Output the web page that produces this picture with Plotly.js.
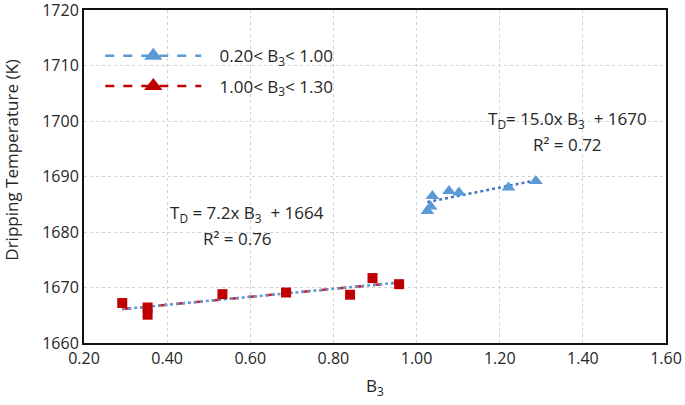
<!DOCTYPE html>
<html>
<head>
<meta charset="utf-8">
<script src="https://cdn.plot.ly/plotly-3.0.1.min.js"></script>
<style>html,body{margin:0;padding:0;background:#fff;}#chart{width:685px;height:405px;}</style>
</head>
<body>
<div id="chart"></div>
<script>
// Data
var redB3 = [0.292, 0.353, 0.353, 0.533, 0.686, 0.840, 0.894, 0.958];
var redTD = [1667.2, 1666.4, 1665.1, 1668.8, 1669.1, 1668.7, 1671.7, 1670.6];
var blueB3 = [1.026, 1.034, 1.038, 1.078, 1.102, 1.221, 1.287];
var blueTD = [1683.8, 1684.6, 1686.5, 1687.4, 1687.1, 1688.0, 1689.2];
// Fitted trendline coefficients shown on the chart
var redFit = {slope: 7.2, intercept: 1664, r2: 0.76};
var blueFit = {slope: 15.0, intercept: 1670, r2: 0.72};
var legendLabels = ['0.20&lt; B<sub>3</sub>&lt; 1.00', '1.00&lt; B<sub>3</sub>&lt; 1.30'];
var xTicks = [0.2, 0.4, 0.6, 0.8, 1.0, 1.2, 1.4, 1.6];
var yTicks = [1660, 1670, 1680, 1690, 1700, 1710, 1720];

function fitLine(xs, fit) {
  var lo = Math.min.apply(null, xs), hi = Math.max.apply(null, xs);
  return {x: [lo, hi], y: [fit.slope * lo + fit.intercept, fit.slope * hi + fit.intercept]};
}
var rl = fitLine(redB3, redFit), bl = fitLine(blueB3, blueFit);

var FONT = 'Open Sans, Liberation Sans, sans-serif';
var TXT = '#262626';
var traces = [
  {x: rl.x, y: rl.y, mode: 'lines', line: {color: '#E0101A', width: 2.5, dash: 'dash'}, showlegend: false, hoverinfo: 'skip'},
  {x: rl.x, y: rl.y, mode: 'lines', line: {color: '#5B9BD5', width: 2.5, dash: 'dot'}, showlegend: false, hoverinfo: 'skip'},
  {x: bl.x, y: bl.y, mode: 'lines', line: {color: '#4472C4', width: 2.5, dash: 'dot'}, showlegend: false, hoverinfo: 'skip'},
  {x: redB3, y: redTD, mode: 'markers', marker: {symbol: 'square', size: 10, color: '#C00000'}, showlegend: false},
  {x: blueB3, y: blueTD, mode: 'markers', marker: {symbol: 'triangle-up', size: 12, color: '#5B9BD5'}, showlegend: false},
  {x: [null], y: [null], name: '   ' + legendLabels[0], legendgroup: 'a', mode: 'lines+markers',
   line: {color: '#5B9BD5', width: 2.5, dash: 'dash'}, marker: {symbol: 'triangle-up', size: 18, color: '#5B9BD5'}},
  {x: [null], y: [null], name: '   ' + legendLabels[1], legendgroup: 'b', mode: 'lines+markers',
   line: {color: '#C00000', width: 2.5, dash: 'dash'}, marker: {symbol: 'triangle-up', size: 18, color: '#C00000'}}
];

var layout = {
  width: 685, height: 405,
  margin: {l: 84, r: 19, t: 10, b: 62},
  paper_bgcolor: '#fff', plot_bgcolor: '#fff',
  font: {family: FONT, size: 16, color: TXT},
  showlegend: true,
  legend: {x: 0.028, y: 0.915, xanchor: 'left', yanchor: 'top', font: {family: FONT, size: 17, color: TXT},
           itemwidth: 96, tracegroupgap: 5, bgcolor: 'rgba(0,0,0,0)'},
  xaxis: {range: [0.2, 1.6], tickvals: xTicks, ticktext: xTicks.map(function(v){return v.toFixed(2);}),
          showgrid: true, gridcolor: '#D2D2D2', griddash: 'dot', gridwidth: 1,
          showline: true, linecolor: '#111', linewidth: 2, mirror: true, ticks: '', zeroline: false,
          tickfont: {family: FONT, size: 16, color: TXT}, ticklabeloverflow: 'allow',
          title: {text: 'B<sub>3</sub>', font: {family: FONT, size: 17, color: TXT}, standoff: 12}},
  yaxis: {range: [1660, 1720], tickvals: yTicks, showgrid: true, gridcolor: '#D2D2D2', griddash: 'dot', gridwidth: 1,
          showline: true, linecolor: '#111', linewidth: 2, mirror: true, ticks: '', zeroline: false,
          tickfont: {family: FONT, size: 16, color: TXT}, ticklabeloverflow: 'allow'},
  annotations: [
    {xref: 'paper', yref: 'paper', x: -0.124, y: 0.55, xanchor: 'center', yanchor: 'middle', textangle: -90,
     text: 'Dripping Temperature (K)', showarrow: false, font: {family: FONT, size: 17, color: TXT}},
    {xref: 'x', yref: 'y', x: 0.593, y: 1683.3, text: 'T<sub>D</sub> = ' + redFit.slope.toFixed(1) + 'x B<sub>3</sub>  + ' + redFit.intercept,
     showarrow: false, font: {family: FONT, size: 17, color: TXT}},
    {xref: 'x', yref: 'y', x: 0.569, y: 1678.8, text: 'R² = ' + redFit.r2.toFixed(2),
     showarrow: false, font: {family: FONT, size: 17, color: TXT}},
    {xref: 'x', yref: 'y', x: 1.363, y: 1700.3, text: 'T<sub>D</sub>= ' + blueFit.slope.toFixed(1) + 'x B<sub>3</sub>  + ' + blueFit.intercept,
     showarrow: false, font: {family: FONT, size: 17, color: TXT}},
    {xref: 'x', yref: 'y', x: 1.362, y: 1695.8, text: 'R² = ' + blueFit.r2.toFixed(2),
     showarrow: false, font: {family: FONT, size: 17, color: TXT}}
  ]
};
Plotly.newPlot('chart', traces, layout, {displayModeBar: false, staticPlot: true});
</script>
</body>
</html>
